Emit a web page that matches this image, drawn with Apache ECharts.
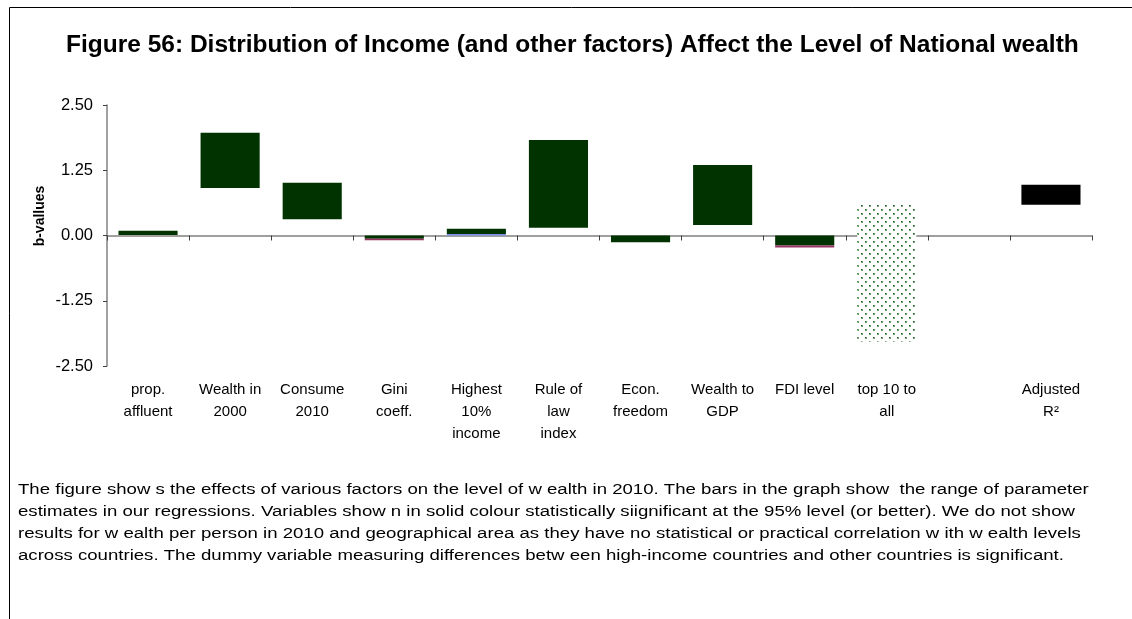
<!DOCTYPE html>
<html>
<head>
<meta charset="utf-8">
<script src="https://cdn.jsdelivr.net/npm/echarts@6/dist/echarts.min.js"></script>
<style>
  html, body { margin: 0; padding: 0; background: #fff; }
  #chart { width: 1132px; height: 619px; }
</style>
</head>
<body>
<div id="chart"></div>
<script>
// categories and ranges of b-values
const categories = ['prop.\naffluent', 'Wealth in\n2000', 'Consume\n2010', 'Gini\ncoeff.', 'Highest\n10%\nincome',
  'Rule of\nlaw\nindex', 'Econ.\nfreedom', 'Wealth to\nGDP', 'FDI level', 'top 10 to\nall', '', 'Adjusted\nR²']
const rangeLow = [0.01, 0.91, 0.31, -0.06, 0.03, 0.15, -0.13, 0.20, -0.19, -2.03, null, 0.59]
const rangeHigh = [0.09, 1.97, 1.01, 0.00, 0.13, 1.83, 0.00, 1.35, 0.00, 0.61, null, 0.97]
// 'sig' = significant, 'insig' = not significant, 'fit' = model fit
const kinds = ['sig', 'sig', 'sig', 'sig', 'sig', 'sig', 'sig', 'sig', 'sig', 'insig', null, 'fit']
// thin extra slices drawn at the edge of some bars
const edgeLow = [null, null, null, -0.09, 0.00, null, null, null, -0.23, null, null, null]
const edgeHigh = [null, null, null, -0.06, 0.03, null, null, null, -0.19, null, null, null]
const yTicks = [-2.5, -1.25, 0, 1.25, 2.5]

const caption = [
  'The figure show s the effects of various factors on the level of w ealth in 2010. The bars in the graph show  the range of parameter',
  'estimates in our regressions. Variables show n in solid colour statistically siignificant at the 95% level (or better). We do not show',
  'results for w ealth per person in 2010 and geographical area as they have no statistical or practical correlation w ith w ealth levels',
  'across countries. The dummy variable measuring differences betw een high-income countries and other countries is significant.'
]

function dotPattern () {
  const c = document.createElement('canvas')
  c.width = 8
  c.height = 8
  const ctx = c.getContext('2d')
  ctx.fillStyle = '#ffffff'
  ctx.fillRect(0, 0, 8, 8)
  ctx.fillStyle = '#6f9f6f'
  ctx.fillRect(1, 1, 2, 2)
  ctx.fillRect(5, 5, 2, 2)
  ctx.fillStyle = '#1f5a1f'
  ctx.fillRect(1, 1, 1, 1)
  ctx.fillRect(5, 5, 1, 1)
  return { image: c, repeat: 'repeat' }
}

const fills = { sig: '#003300', insig: dotPattern(), fit: '#000000' }

const segments = []
categories.forEach((c, i) => {
  if (rangeLow[i] !== null) {
    segments.push({ value: [i, rangeLow[i], rangeHigh[i]], itemStyle: { color: fills[kinds[i]] } })
  }
  if (edgeLow[i] !== null) {
    segments.push({ value: [i, edgeLow[i], edgeHigh[i]], itemStyle: { color: edgeHigh[i] <= 0 ? '#993366' : '#7f8fe8' } })
  }
})

const chart = echarts.init(document.getElementById('chart'))
const option = {
  animation: false,
  title: {
    text: 'Figure 56: Distribution of Income (and other factors) Affect the Level of National wealth',
    left: 61,
    top: 28,
    textStyle: { fontFamily: 'Liberation Sans, Arial', fontSize: 24.5, fontWeight: 'bold', color: '#000' }
  },
  grid: { left: 107, right: 40, top: 105, bottom: 253 },
  xAxis: [{
    type: 'category',
    data: categories,
    axisLine: { onZero: true, lineStyle: { color: '#808080', width: 1.5 } },
    axisTick: { show: true, length: 5, lineStyle: { color: '#404040' } },
    axisLabel: { show: false },
    splitLine: { show: false }
  }, {
    type: 'category',
    data: categories,
    position: 'bottom',
    axisLine: { show: false },
    axisTick: { show: false },
    axisLabel: {
      interval: 0,
      margin: 13,
      fontFamily: 'Liberation Sans, Arial',
      fontSize: 15,
      lineHeight: 22,
      color: '#000'
    }
  }],
  yAxis: {
    type: 'value',
    min: yTicks[0],
    max: yTicks[yTicks.length - 1],
    interval: 1.25,
    axisLine: { show: true, lineStyle: { color: '#808080', width: 1.5 } },
    axisTick: { show: true, length: 4, lineStyle: { color: '#404040' } },
    splitLine: { show: false },
    axisLabel: {
      margin: 14,
      formatter: v => v.toFixed(2),
      fontFamily: 'Liberation Sans, Arial',
      fontSize: 16.5,
      color: '#000'
    }
  },
  series: [{
    type: 'custom',
    xAxisIndex: 0,
    encode: { x: 0, y: [1, 2] },
    renderItem (params, api) {
      const top = api.coord([api.value(0), api.value(2)])
      const bottom = api.coord([api.value(0), api.value(1)])
      const w = api.size([1, 0])[0] * 0.72
      return {
        type: 'rect',
        shape: { x: top[0] - w / 2, y: top[1], width: w, height: bottom[1] - top[1] },
        style: { fill: api.visual('color') }
      }
    },
    data: segments
  }],
  graphic: [{
    type: 'rect',
    silent: true,
    shape: { x: 9.5, y: 7.5, width: 1300, height: 800 },
    style: { fill: 'none', stroke: '#000', lineWidth: 1 }
  }, {
    type: 'text',
    x: 40,
    y: 216,
    rotation: Math.PI / 2,
    style: {
      text: 'b-vallues',
      font: 'bold 14px "Liberation Sans", Arial',
      fill: '#000',
      align: 'center',
      verticalAlign: 'middle'
    }
  }, {
    type: 'text',
    x: 18,
    y: 479,
    scaleX: 1.2,
    style: {
      text: caption.join('\n'),
      font: '15.5px "Liberation Sans", Arial',
      lineHeight: 22,
      fill: '#000'
    }
  }]
}
chart.setOption(option)
</script>
</body>
</html>
